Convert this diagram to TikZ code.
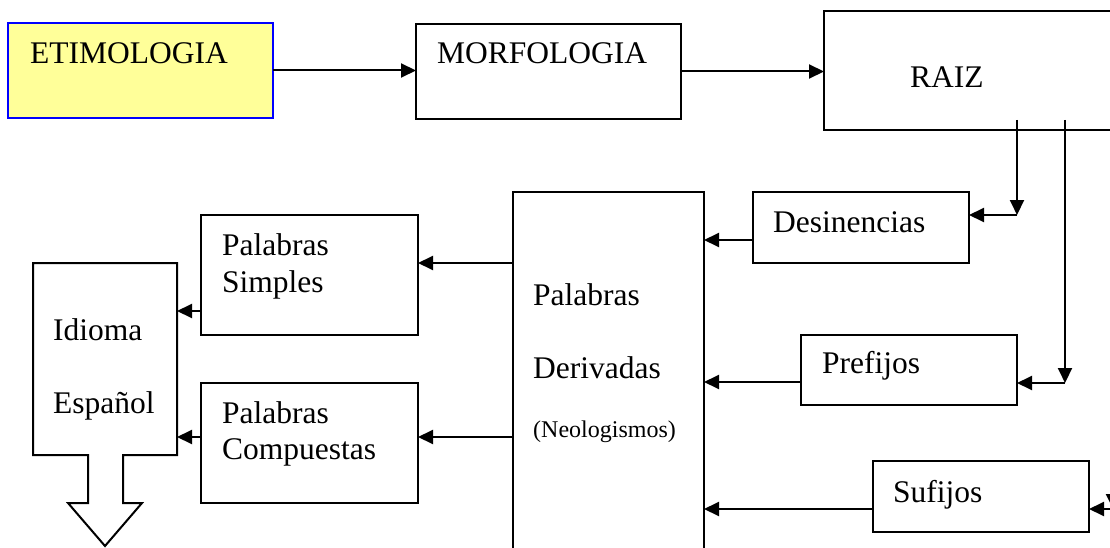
\documentclass[tikz,border=0pt]{standalone}
\usepackage{fontspec}
\setmainfont{Liberation Serif}
\usetikzlibrary{arrows.meta,calc}
\definecolor{paleyellow}{RGB}{255,255,153}
\begin{document}
\begin{tikzpicture}[x=1pt,y=-1pt,
  box/.style={draw=black,line width=2pt,rectangle,inner sep=0pt,outer sep=0pt,anchor=north west},
  lbl/.style={anchor=base west,inner sep=0pt,font=\fontsize{31.5}{36}\selectfont},
  smalllbl/.style={anchor=base west,inner sep=0pt,font=\fontsize{24}{28}\selectfont},
  arr/.style={line width=2pt,-{Triangle[length=15pt,width=14pt]}}]
\useasboundingbox (0,0) rectangle (1110,548);
\clip (0,0) rectangle (1110,548);

% boxes
\node[box,draw=blue,fill=paleyellow,line width=1.8pt,minimum width=265pt,minimum height=95pt] (etim) at (8,23) {};
\node[box,minimum width=265pt,minimum height=95pt] (morf) at (416,24) {};
\node[box,minimum width=320pt,minimum height=119pt] (raiz) at (824,11) {};
\node[box,minimum width=216pt,minimum height=71pt] (desin) at (753,192) {};
\node[box,minimum width=216pt,minimum height=70pt] (pref) at (801,335) {};
\node[box,minimum width=216pt,minimum height=71pt] (suf) at (873,461) {};
\node[box,minimum width=191pt,minimum height=380pt] (deriv) at (513,192) {};
\node[box,minimum width=217pt,minimum height=120pt] (simp) at (201,215) {};
\node[box,minimum width=217pt,minimum height=120pt] (comp) at (201,383) {};
\node[box,draw=none,minimum width=144pt,minimum height=192pt] (idioma) at (33,263) {};

% outline of the language box with its outgoing block arrow
\draw[line width=2pt,fill=white] (idioma.south west) -- (idioma.north west) -- (idioma.north east)
  -- (idioma.south east) -- ($(idioma.south west)+(90,0)$) -- ++(0,48) -- ++(19,0)
  -- ++(-37,43) -- ++(-37,-43) -- ++(20,0) -- ($(idioma.south west)+(55,0)$) -- cycle;

% labels
\node[lbl] (tetim) at (30,64) {ETIMOLOGIA};
\node[lbl] (tmorf) at (437,64) {MORFOLOGIA};
\node[lbl] (traiz) at (910,88) {RAIZ};
\node[lbl] (tdesin) at (773,232) {Desinencias};
\node[lbl] (tpref) at (822,373) {Prefijos};
\node[lbl] (tsuf) at (893,502) {Sufijos};
\node[lbl] (tder1) at (533,305) {Palabras};
\node[lbl] (tder2) at (533,378) {Derivadas};
\node[smalllbl] (tder3) at (533,437) {(Neologismos)};
\node[lbl] (tsim1) at (222,255) {Palabras};
\node[lbl] (tsim2) at (222,292) {Simples};
\node[lbl] (tcom1) at (222,423) {Palabras};
\node[lbl] (tcom2) at (222,459) {Compuestas};
\node[lbl] (tidi1) at (53,340) {Idioma};
\node[lbl] (tidi2) at (53,413) {Español};

% top row
\draw[arr] (etim.east) -- (etim.east -| morf.west);
\draw[arr] (morf.east) -- (morf.east -| raiz.west);

% branches leaving the root box
\coordinate (ra) at (1017,120); \coordinate (ca) at (1017,215);
\coordinate (rb) at (1065,120); \coordinate (cb) at (1065,383);
\coordinate (rc) at (1113,120); \coordinate (cc) at (1113,509);
\draw[arr] (ra) -- (ca);
\draw[arr] (ca) -- (ca -| desin.east);
\draw[arr] (rb) -- (cb);
\draw[arr] (cb) -- (cb -| pref.east);
\draw[arr] (rc) -- (cc);
\draw[arr] (cc) -- (cc -| suf.east);

% affixes into derived words
\coordinate (ya) at (0,240);
\coordinate (yb) at (0,382);
\draw[arr] (desin.west |- ya) -- (deriv.east |- ya);
\draw[arr] (pref.west |- yb) -- (deriv.east |- yb);
\draw[arr] (suf.west |- cc) -- (deriv.east |- cc);

% derived words into simple and compound words
\coordinate (yc) at (0,263);
\coordinate (yd) at (0,437);
\draw[arr] (deriv.west |- yc) -- (simp.east |- yc);
\draw[arr] (deriv.west |- yd) -- (comp.east |- yd);

% simple and compound words into the language
\coordinate (ye) at (0,311);
\draw[arr] (simp.west |- ye) -- (idioma.east |- ye);
\draw[arr] (comp.west |- yd) -- (idioma.east |- yd);
\end{tikzpicture}
\end{document}
